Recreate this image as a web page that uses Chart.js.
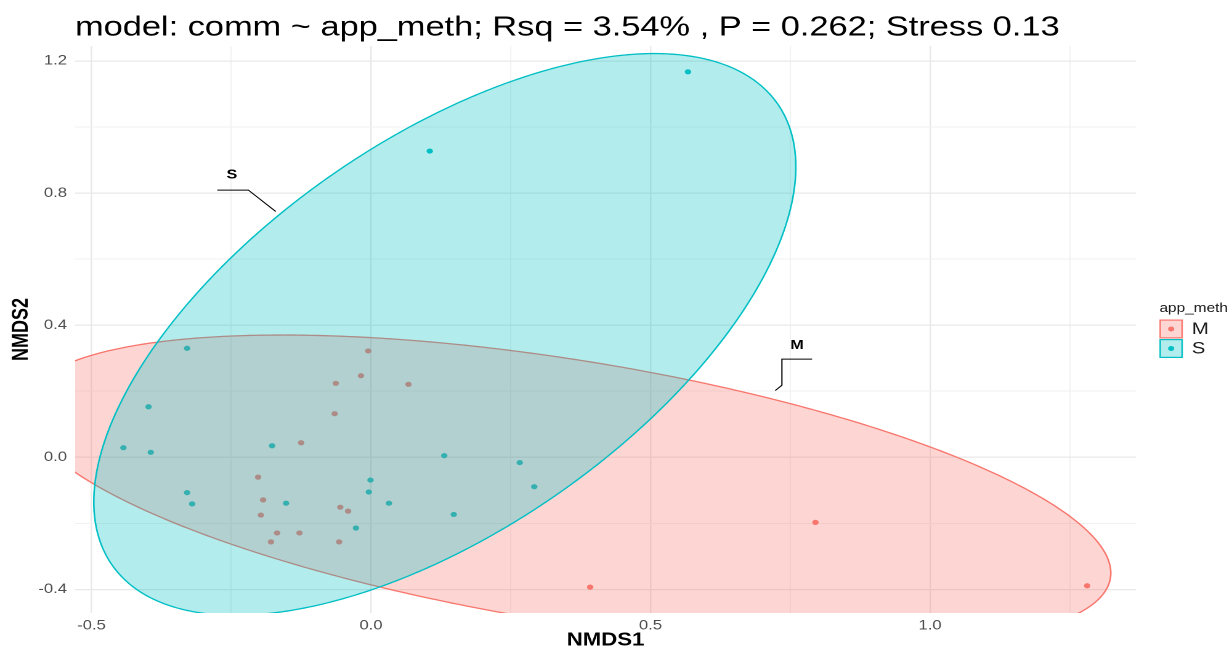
<!DOCTYPE html>
<html>
<head>
<meta charset="utf-8">
<title>NMDS - app_meth</title>
<script src="https://cdn.jsdelivr.net/npm/chart.js@4.4.1/dist/chart.umd.min.js"></script>
<style>
    html, body { margin: 0; padding: 0; background: #ffffff; overflow: hidden; }
    /* plot is laid out on a 1000px canvas and stretched to the window width */
    #wrap { width: 1000px; height: 648px; transform: scaleX(1.232); transform-origin: 0 0; }
</style>
</head>
<body>
<div id="wrap"><canvas id="nmdsChart" width="1000" height="648"></canvas></div>
<script>
// NMDS ordination of comm, coloured by application method

const groups = ['M', 'S'];
const groupColors = ['#F8766D', '#00BFC4'];
const groupFills = ['rgba(248, 118, 109, 0.3)', 'rgba(0, 191, 196, 0.3)'];

// site scores, group M
const nmds1M = [-0.005, -0.018, -0.063, 0.067, -0.065, -0.125, -0.202, -0.193, -0.197,
                -0.168, -0.179, -0.128, -0.055, -0.041, -0.057, 0.795, 0.392, 1.281];
const nmds2M = [0.322, 0.247, 0.224, 0.221, 0.132, 0.044, -0.060, -0.129, -0.175,
                -0.229, -0.256, -0.229, -0.151, -0.163, -0.256, -0.197, -0.393, -0.389];

// site scores, group S
const nmds1S = [0.567, 0.105, -0.329, -0.398, -0.443, -0.394, -0.177, -0.329, -0.320,
                -0.152, -0.001, -0.004, -0.027, 0.032, 0.131, 0.266, 0.292, 0.148];
const nmds2S = [1.167, 0.927, 0.330, 0.153, 0.029, 0.015, 0.035, -0.107, -0.141,
                -0.139, -0.069, -0.105, -0.214, -0.139, 0.005, -0.016, -0.089, -0.173];

// 95% ellipses: centre and shape matrix [xx, xy, yy]
const ellipseCenterM = [0.352, -0.102];
const ellipseShapeM = [0.9436, -0.2413, 0.2229];
const ellipseCenterS = [0.132, 0.372];
const ellipseShapeS = [0.3943, 0.3185, 0.7229];

// axes
const xRange = [-0.5295, 1.3685];
const yRange = [-0.4714, 1.2452];
const xTicks = [-0.5, 0.0, 0.5, 1.0];
const yTicks = [-0.4, 0.0, 0.4, 0.8, 1.2];

// group labels with their leader lines
const labelText = ['S', 'M'];
const labelPos = [[-0.249, 0.855], [0.762, 0.338]];
const leaderPaths = [
    [[-0.275, 0.809], [-0.2195, 0.809], [-0.1705, 0.744]],
    [[0.789, 0.297], [0.735, 0.297], [0.735, 0.218], [0.723, 0.202]]
];

const FONT = '"Liberation Sans", Arial, Helvetica, sans-serif';

function toPoints(xs, ys) {
    return xs.map((x, i) => ({ x: x, y: ys[i] }));
}

// upper and lower arcs of an ellipse, both running left to right
function ellipseArcs(center, shape, steps) {
    const l11 = Math.sqrt(shape[0]);
    const l21 = shape[1] / l11;
    const l22 = Math.sqrt(shape[2] - l21 * l21);
    const upper = [];
    const lower = [];
    for (let i = 0; i <= steps; i++) {
        const tu = Math.PI - Math.PI * i / steps;
        const tl = Math.PI + Math.PI * i / steps;
        upper.push({ x: center[0] + l11 * Math.cos(tu), y: center[1] + l21 * Math.cos(tu) + l22 * Math.sin(tu) });
        lower.push({ x: center[0] + l11 * Math.cos(tl), y: center[1] + l21 * Math.cos(tl) + l22 * Math.sin(tl) });
    }
    return { upper, lower };
}

const arcsM = ellipseArcs(ellipseCenterM, ellipseShapeM, 160);
const arcsS = ellipseArcs(ellipseCenterS, ellipseShapeS, 160);

function isListed(list, v) {
    return list.some(t => Math.abs(t - v) < 1e-9);
}

function arcDataset(label, data, colorIdx, fillTarget, order) {
    return {
        type: 'line',
        label: label,
        data: data,
        borderColor: groupColors[colorIdx],
        borderWidth: 1.3,
        backgroundColor: groupFills[colorIdx],
        fill: fillTarget,
        pointRadius: 0,
        // small tension keeps the path off the per-pixel fast path near vertical tangents
        tension: 0.01,
        capBezierPoints: false,
        order: order
    };
}

// text labels and leader segments for each group
const groupLabels = {
    id: 'groupLabels',
    afterDatasetsDraw(chart) {
        const { ctx, scales: { x, y } } = chart;
        ctx.save();
        ctx.strokeStyle = '#000000';
        ctx.lineWidth = 1;
        leaderPaths.forEach(path => {
            ctx.beginPath();
            path.forEach((p, i) => {
                const px = x.getPixelForValue(p[0]);
                const py = y.getPixelForValue(p[1]);
                if (i === 0) ctx.moveTo(px, py); else ctx.lineTo(px, py);
            });
            ctx.stroke();
        });
        ctx.fillStyle = '#000000';
        ctx.font = 'bold 13px ' + FONT;
        ctx.textAlign = 'center';
        ctx.textBaseline = 'middle';
        labelText.forEach((t, i) => {
            ctx.fillText(t, x.getPixelForValue(labelPos[i][0]), y.getPixelForValue(labelPos[i][1]));
        });
        ctx.restore();
    }
};

// legend box on the right: title plus filled keys with a dot
const keyLegend = {
    id: 'keyLegend',
    afterDraw(chart) {
        const { ctx, chartArea } = chart;
        const x0 = chartArea.right + 19;
        const mid = (chartArea.top + chartArea.bottom) / 2;
        const size = 19;
        const top0 = mid - 10;
        ctx.save();
        ctx.fillStyle = '#1a1a1a';
        ctx.font = '12.5px ' + FONT;
        ctx.textAlign = 'left';
        ctx.textBaseline = 'alphabetic';
        ctx.fillText('app_meth', x0, top0 - 7.5);
        groups.forEach((g, i) => {
            const top = top0 + i * (size + 0.5);
            ctx.fillStyle = '#ffffff';
            ctx.fillRect(x0, top, size, size);
            ctx.fillStyle = groupFills[i];
            ctx.fillRect(x0, top, size, size);
            ctx.strokeStyle = groupColors[i];
            ctx.lineWidth = 1.2;
            ctx.strokeRect(x0 + 0.6, top + 0.6, size - 1.2, size - 1.2);
            ctx.beginPath();
            ctx.arc(x0 + size / 2, top + size / 2, 2.5, 0, 2 * Math.PI);
            ctx.fillStyle = groupColors[i];
            ctx.fill();
            ctx.fillStyle = '#1a1a1a';
            ctx.font = '16.5px ' + FONT;
            ctx.textBaseline = 'middle';
            ctx.fillText(g, x0 + 26.3, top + size / 2 + 0.5);
        });
        ctx.restore();
    }
};

const gridColor = (list) => (c) => isListed(list, c.tick.value) ? '#E8E8E8' : '#F1F1F1';
const gridWidth = (list) => (c) => isListed(list, c.tick.value) ? 1.2 : 0.9;

new Chart(document.getElementById('nmdsChart'), {
    type: 'scatter',
    data: {
        datasets: [
            {
                label: 'M',
                data: toPoints(nmds1M, nmds2M),
                backgroundColor: groupColors[0],
                borderWidth: 0,
                pointRadius: 2.6,
                order: 3
            },
            {
                label: 'S',
                data: toPoints(nmds1S, nmds2S),
                backgroundColor: groupColors[1],
                borderWidth: 0,
                pointRadius: 2.6,
                order: 3
            },
            arcDataset('M upper', arcsM.upper, 0, false, 2),
            arcDataset('M lower', arcsM.lower, 0, 2, 2),
            arcDataset('S upper', arcsS.upper, 1, false, 1),
            arcDataset('S lower', arcsS.lower, 1, 4, 1)
        ]
    },
    options: {
        responsive: false,
        animation: false,
        devicePixelRatio: 2,
        events: [],
        layout: { padding: { left: 0, right: 77.9, top: 0, bottom: 0 } },
        plugins: {
            legend: { display: false },
            tooltip: { enabled: false },
            title: {
                display: true,
                text: 'model: comm ~ app_meth; Rsq = 3.54% , P = 0.262; Stress 0.13',
                align: 'start',
                fullSize: false,
                color: '#000000',
                font: { family: FONT, size: 27.9, weight: 'normal', lineHeight: 1.2 },
                padding: { top: 11, bottom: 1.5 }
            }
        },
        scales: {
            x: {
                type: 'linear',
                min: xRange[0],
                max: xRange[1],
                border: { display: false },
                grid: { color: gridColor(xTicks), lineWidth: gridWidth(xTicks), drawTicks: false },
                ticks: {
                    stepSize: 0.25,
                    includeBounds: false,
                    autoSkip: false,
                    maxRotation: 0,
                    padding: 4.5,
                    color: '#4D4D4D',
                    font: { family: FONT, size: 13.5 },
                    callback: (v) => isListed(xTicks, v) ? v.toFixed(1) : ''
                },
                title: {
                    display: true,
                    text: 'NMDS1',
                    color: '#000000',
                    font: { family: FONT, size: 18, weight: 'bold', lineHeight: 0.85 },
                    padding: { top: 0, bottom: 0 }
                },
                afterFit: (scale) => { scale.height = 35; }
            },
            y: {
                type: 'linear',
                min: yRange[0],
                max: yRange[1],
                border: { display: false },
                grid: { color: gridColor(yTicks), lineWidth: gridWidth(yTicks), drawTicks: false },
                ticks: {
                    stepSize: 0.2,
                    includeBounds: false,
                    autoSkip: false,
                    padding: 6.5,
                    color: '#4D4D4D',
                    font: { family: FONT, size: 13.5 },
                    callback: (v) => isListed(yTicks, v) ? v.toFixed(1) : ''
                },
                title: {
                    display: true,
                    text: 'NMDS2',
                    color: '#000000',
                    font: { family: FONT, size: 18, weight: 'bold', lineHeight: 1 },
                    padding: { top: 8.5, bottom: 0 }
                },
                afterFit: (scale) => { scale.width = 60.9; }
            }
        }
    },
    plugins: [groupLabels, keyLegend]
});
</script>
</body>
</html>
